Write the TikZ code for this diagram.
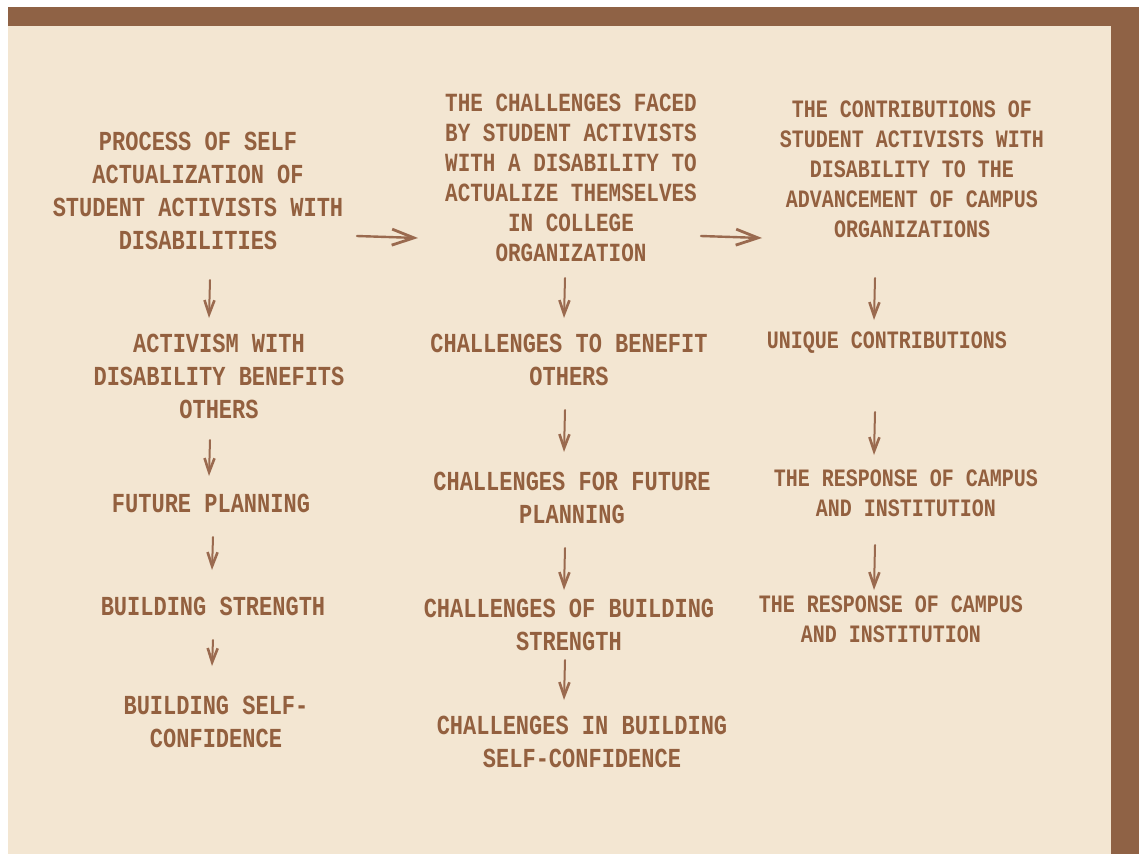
\documentclass[tikz,border=0pt]{standalone}
\usepackage{fontspec}
\newfontfamily\typew{Liberation Mono}[FakeStretch=0.8]
\usetikzlibrary{arrows.meta}
\definecolor{frame}{HTML}{8F6245}
\definecolor{cream}{HTML}{F3E6D2}
\definecolor{ink}{HTML}{93603F}
\definecolor{arr}{HTML}{9A6A4F}
\tikzset{
  lbl/.style={text=ink, align=center, inner sep=0pt, font=\typew\bfseries\fontsize{27.5}{33}\selectfont},
  lblm/.style={text=ink, align=center, inner sep=0pt, font=\typew\bfseries\fontsize{26.2}{30}\selectfont},
  lbls/.style={text=ink, align=center, inner sep=0pt, font=\typew\bfseries\fontsize{25}{30}\selectfont},
  harrow/.style={draw=arr, line width=2.4pt, line cap=round, -{Straight Barb[length=22pt,width=16pt,line width=2.8pt]}},
  varrow/.style={draw=arr, line width=2pt, line cap=round, -{Straight Barb[length=14pt,width=10pt,line width=2.6pt]}}
}
\begin{document}
\begin{tikzpicture}[x=1pt,y=-1pt]
\useasboundingbox (0,0) rectangle (1139,854);
\fill[white] (0,0) rectangle (1139,854);
\fill[cream] (8,7) rectangle (1111,854);
\fill[frame] (8,7) rectangle (1139,26);
\fill[frame] (1111,7) rectangle (1139,854);

% column 1
\node[lbl] (a1) at (198,191) {PROCESS OF SELF\\ACTUALIZATION OF\\STUDENT ACTIVISTS WITH\\DISABILITIES};
\node[lbl] (a2) at (219,376) {ACTIVISM WITH\\DISABILITY BENEFITS\\OTHERS};
\node[lbl] (a3) at (211,503) {FUTURE PLANNING};
\node[lbl] (a4) at (213,606) {BUILDING STRENGTH};
\node[lbl] (a5) at (216,722) {BUILDING SELF-\\CONFIDENCE};

% column 2
\node[lblm] (b1) at (571,178) {THE CHALLENGES FACED\\BY STUDENT ACTIVISTS\\WITH A DISABILITY TO\\ACTUALIZE THEMSELVES\\IN COLLEGE\\ORGANIZATION};
\node[lbl] (b2) at (569,360) {CHALLENGES TO BENEFIT\\OTHERS};
\node[lbl] (b3) at (572,498) {CHALLENGES FOR FUTURE\\PLANNING};
\node[lbl] (b4) at (569,625) {CHALLENGES OF BUILDING\\STRENGTH};
\node[lbl] (b5) at (582,742) {CHALLENGES IN BUILDING\\SELF-CONFIDENCE};

% column 3
\node[lbls] (c1) at (912,169) {THE CONTRIBUTIONS OF\\STUDENT ACTIVISTS WITH\\DISABILITY TO THE\\ADVANCEMENT OF CAMPUS\\ORGANIZATIONS};
\node[lbls] (c2) at (887,343) {UNIQUE CONTRIBUTIONS};
\node[lbls] (c3) at (906,493) {THE RESPONSE OF CAMPUS\\AND INSTITUTION};
\node[lbls] (c4) at (891,619) {THE RESPONSE OF CAMPUS\\AND INSTITUTION};

% arrow end points
\coordinate (h1s) at (357,236); \coordinate (h1e) at (418,238);
\coordinate (h2s) at (701,236); \coordinate (h2e) at (762,238);
\coordinate (a12s) at (210,280); \coordinate (a12e) at (209,318);
\coordinate (a23s) at (210,440); \coordinate (a23e) at (209,476);
\coordinate (a34s) at (213,537); \coordinate (a34e) at (212,570);
\coordinate (a45s) at (213,640); \coordinate (a45e) at (212,666);
\coordinate (b12s) at (565,278); \coordinate (b12e) at (564,318);
\coordinate (b23s) at (565,410); \coordinate (b23e) at (564,452);
\coordinate (b34s) at (565,548); \coordinate (b34e) at (564,590);
\coordinate (b45s) at (565,660); \coordinate (b45e) at (564,700);
\coordinate (c12s) at (875,278); \coordinate (c12e) at (874,320);
\coordinate (c23s) at (875,412); \coordinate (c23e) at (874,455);
\coordinate (c34s) at (875,545); \coordinate (c34e) at (874,590);

\draw[harrow] (h1s) -- (h1e);
\draw[harrow] (h2s) -- (h2e);
\foreach \p in {a12,a23,a34,a45,b12,b23,b34,b45,c12,c23,c34}
  \draw[varrow] (\p s) -- (\p e);
\end{tikzpicture}
\end{document}
